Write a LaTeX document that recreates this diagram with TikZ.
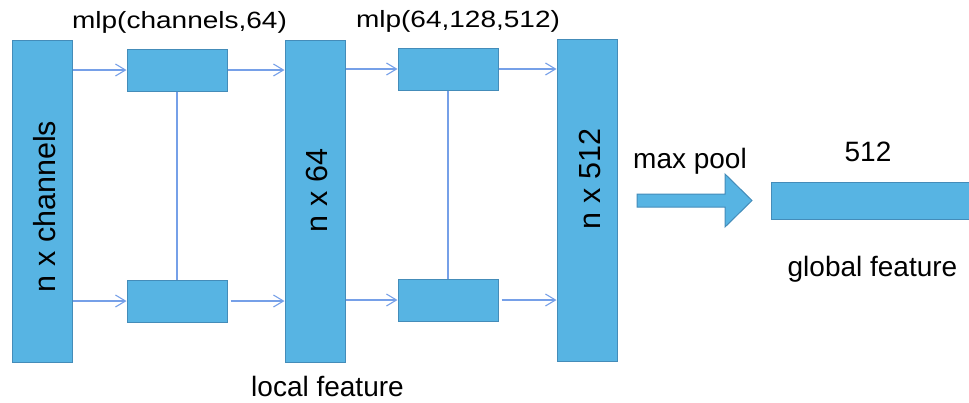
\documentclass[tikz,border=0pt]{standalone}
\usepackage{fontspec}
\setmainfont{Liberation Sans}
\usetikzlibrary{arrows.meta}
\definecolor{boxfill}{RGB}{87,180,227}
\definecolor{boxdraw}{RGB}{68,140,185}
\definecolor{conn}{RGB}{118,160,232}
\tikzset{
  blk/.style={draw=boxdraw, fill=boxfill, line width=1pt, inner sep=0pt, minimum width=#1},
  bar/.style={blk=60pt, minimum height=322pt},
  mbox/.style={blk=100pt, minimum height=42pt},
  lab/.style={font=\fontsize{28}{32}\selectfont, anchor=base, inner sep=0pt},
  toplab/.style={lab, yscale=0.84},
  vlab/.style={font=\fontsize{30.5}{34}\selectfont, anchor=base, rotate=90, inner sep=0pt},
  conline/.style={draw=conn, line width=1.1pt},
  arr/.style={conline, -{Straight Barb[length=10pt,width=12pt,line width=1.1pt]}},
}
\begin{document}
\begin{tikzpicture}[x=1pt,y=-1pt]
\useasboundingbox (0,0) rectangle (969,402);
% big bars
\node[bar] (L) at (42,201) {};
\node[bar] (M) at (315,201) {};
\node[bar] (R) at (587,200) {};
% small boxes
\node[mbox] (b1t) at (177,70) {};
\node[mbox] (b1b) at (177,301) {};
\node[mbox] (b2t) at (448,69) {};
\node[mbox] (b2b) at (448,300) {};
% global feature bar
\node[blk=204pt, minimum height=37pt] (G) at (873,200.5) {};
% vertical labels
\node[vlab] (tL) at (55,206.5) {n x channels};
\node[vlab] (tM) at (327,190.5) {n x 64};
\node[vlab] (tR) at (600,179) {n x 512};
% horizontal labels
\node[toplab] (mlp1) at (179.5,28) {mlp(channels,64)};
\node[toplab] (mlp2) at (458,27) {mlp(64,128,512)};
\node[lab] (loc) at (327.5,396) {local feature};
\node[lab] (mp) at (690,168) {max pool};
\node[lab] (n512) at (868,161) {512};
\node[lab] (glob) at (872.5,276) {global feature};
% vertical links
\draw[conline] (b1t.south) -- (b1b.north);
\draw[conline] (b2t.south) -- (b2b.north);
% arrows top row
\draw[arr] (L.east |- b1t.west) -- (b1t.west);
\draw[arr] (b1t.east) -- (M.west |- b1t.east);
\draw[arr] (M.east |- b2t.west) -- (b2t.west);
\draw[arr] (b2t.east) -- (R.west |- b2t.east);
% arrows bottom row
\draw[arr] (L.east |- b1b.west) -- (b1b.west);
\draw[arr, shorten <=3pt] (b1b.east) -- (M.west |- b1b.east);
\draw[arr] (M.east |- b2b.west) -- (b2b.west);
\draw[arr, shorten <=3pt] (b2b.east) -- (R.west |- b2b.east);
% max pool arrow
\draw[draw=boxdraw, fill=boxfill, line width=1pt]
  (637,194) -- (725,194) -- (725,174) -- (752,200.5) -- (725,227) -- (725,207) -- (637,207) -- cycle;
\end{tikzpicture}
\end{document}
